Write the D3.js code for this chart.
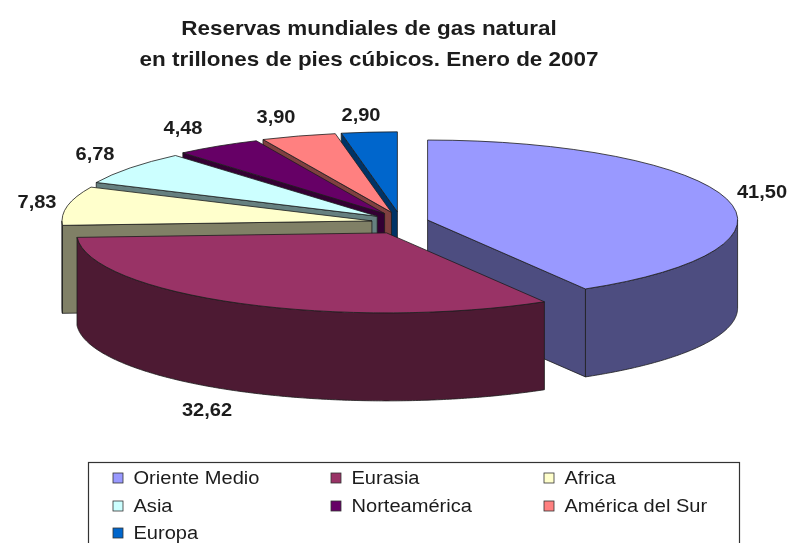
<!DOCTYPE html>
<html>
<head>
<meta charset="utf-8">
<script src="https://cdnjs.cloudflare.com/ajax/libs/d3/7.8.5/d3.min.js"></script>
<style>
  html, body { margin: 0; padding: 0; background: #fff; overflow: hidden; }
  svg { display: block; filter: blur(0.5px); }
  text { font-family: "Liberation Sans", Arial, sans-serif; fill: #1c1c1c; }
</style>
</head>
<body>
<svg class="chart" width="789" height="543"></svg>
<script>
// Datos
var regiones = ["Oriente Medio", "Eurasia", "Africa", "Asia", "Norteamérica", "América del Sur", "Europa"];
var reservas = [41.50, 32.62, 7.83, 6.78, 4.48, 3.90, 2.90];
var etiquetas = ["41,50", "32,62", "7,83", "6,78", "4,48", "3,90", "2,90"];
var colores = ["#9999ff", "#993366", "#ffffcc", "#ccffff", "#660066", "#ff8080", "#0066cc"];
var titulo = ["Reservas mundiales de gas natural", "en trillones de pies cúbicos. Enero de 2007"];

// Geometria del pastel
var cx = 400, cy = 223;
var rx = 310, ry = 80;     // radios de la elipse
var sepX = 28.6, sepY = 11.2; // separacion de las porciones
var alto = 88;             // espesor
var estirar = 1.14;        // la imagen original esta ensanchada

// Posicion de las etiquetas, en el mismo orden que regiones
var etiquetaX = [762, 207, 37, 95, 183, 276, 361];
var etiquetaY = [198, 416, 208, 160, 134, 123, 121];

var svg = d3.select(".chart");

svg.selectAll(".titulo").data(titulo).enter().append("text")
    .attr("class", "titulo")
    .attr("transform", function(d, i) { return "translate(369," + (35 + i * 31) + ") scale(" + estirar + ",1)"; })
    .attr("text-anchor", "middle")
    .attr("font-weight", "bold")
    .attr("font-size", 19.7)
    .text(function(d) { return d; });

var pie = d3.pie().sort(null)(reservas);
pie.forEach(function(d, i) {
    var medio = (d.startAngle + d.endAngle) / 2;
    var c = d3.rgb(colores[i]);
    d.ox = cx + sepX * Math.sin(medio);
    d.oy = cy - sepY * Math.cos(medio);
    d.color = colores[i];
    d.oscuro = d3.rgb(c.r / 2, c.g / 2, c.b / 2).formatHex();
});

function borde(d, a, dy) {
    return [d.ox + rx * Math.sin(a), d.oy - ry * Math.cos(a) + dy];
}

var linea = d3.line();
var arco = d3.arc().innerRadius(0).outerRadius(1);

// Pared plana de una porcion
function pared(d, a) {
    return linea([[d.ox, d.oy], borde(d, a, 0), borde(d, a, alto), [d.ox, d.oy + alto]]) + "Z";
}

// Superficie curva, solo la parte de adelante
function curva(d) {
    var a0 = Math.max(d.startAngle, Math.PI / 2), a1 = Math.min(d.endAngle, Math.PI * 1.5);
    if (a1 <= a0) return null;
    var angulos = d3.range(a0, a1, 0.01).concat([a1]);
    var arriba = angulos.map(function(a) { return borde(d, a, 0); });
    var abajo = angulos.slice().reverse().map(function(a) { return borde(d, a, alto); });
    return linea(arriba.concat(abajo)) + "Z";
}

// De atras hacia adelante
var orden = [6, 5, 4, 3, 2, 0, 1];
var porciones = svg.selectAll(".porcion").data(orden.map(function(i) { return pie[i]; }))
    .enter().append("g").attr("class", "porcion")
    .attr("stroke", "#1d1d1d").attr("stroke-width", 0.8).attr("stroke-linejoin", "round");

porciones.each(function(d) {
    var g = d3.select(this);
    if (d.startAngle > Math.PI) g.append("path").attr("d", pared(d, d.startAngle)).attr("fill", d.oscuro);
    if (d.endAngle < Math.PI) g.append("path").attr("d", pared(d, d.endAngle)).attr("fill", d.oscuro);
    var c = curva(d);
    if (c) g.append("path").attr("d", c).attr("fill", d.oscuro);
    g.append("path")
        .attr("d", arco(d))
        .attr("transform", "translate(" + d.ox + "," + d.oy + ") scale(" + rx + "," + ry + ")")
        .attr("vector-effect", "non-scaling-stroke")
        .attr("fill", d.color);
});

svg.selectAll(".etiqueta").data(etiquetas).enter().append("text")
    .attr("class", "etiqueta")
    .attr("transform", function(d, i) { return "translate(" + etiquetaX[i] + "," + etiquetaY[i] + ") scale(" + estirar + ",1)"; })
    .attr("text-anchor", "middle")
    .attr("font-weight", "bold")
    .attr("font-size", 17.6)
    .text(function(d) { return d; });

// Leyenda
svg.append("rect")
    .attr("x", 88.5).attr("y", 462.5).attr("width", 651).attr("height", 100)
    .attr("fill", "#fff").attr("stroke", "#333").attr("stroke-width", 1.2);

var colX = [118, 336, 549], filaY = [478, 506, 533];

var leyenda = svg.selectAll(".item").data(regiones).enter().append("g")
    .attr("class", "item")
    .attr("transform", function(d, i) { return "translate(" + colX[i % 3] + "," + filaY[Math.floor(i / 3)] + ")"; });

leyenda.append("rect")
    .attr("x", -5).attr("y", -5).attr("width", 10).attr("height", 10)
    .attr("fill", function(d, i) { return colores[i]; })
    .attr("stroke", "#333").attr("stroke-width", 0.8);

leyenda.append("text")
    .attr("transform", "translate(15.5,6) scale(" + estirar + ",1)")
    .attr("font-size", 17.6)
    .text(function(d) { return d; });
</script>
</body>
</html>
